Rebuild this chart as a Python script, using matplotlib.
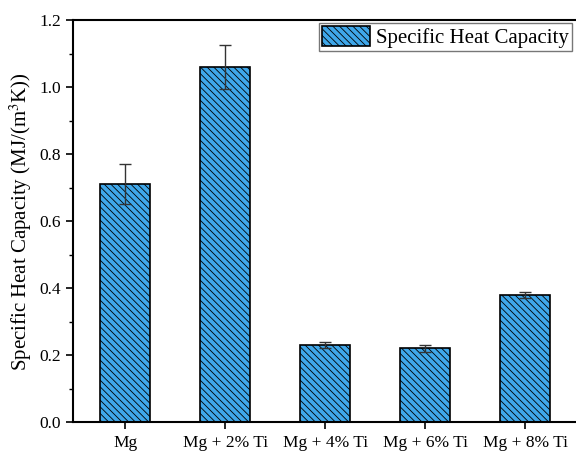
import matplotlib
matplotlib.use('Agg')
import matplotlib.pyplot as plt
from matplotlib.ticker import MultipleLocator

# heat capacity per alloy, with error
alloys = ['Mg', 'Mg + 2% Ti', 'Mg + 4% Ti', 'Mg + 6% Ti', 'Mg + 8% Ti']
heat_capacity = [0.71, 1.06, 0.23, 0.22, 0.38]
heat_capacity_err = [0.06, 0.066, 0.01, 0.01, 0.01]

plt.rcParams['font.family'] = ['Liberation Serif', 'DejaVu Serif']
plt.rcParams['mathtext.fontset'] = 'stix'
plt.rcParams['hatch.linewidth'] = 0.6
plt.rcParams['hatch.color'] = '#10253a'

fig = plt.figure(figsize=(5.76, 4.55), dpi=100)
ax = fig.add_axes([0.127, 0.072, 0.872, 0.884])

x = list(range(len(alloys)))
ax.bar(x, heat_capacity, width=0.5, color='#3fa7ea', edgecolor='black',
       linewidth=1.2, hatch='\\\\\\\\\\', label='Specific Heat Capacity', zorder=2)
ax.errorbar(x, heat_capacity, yerr=heat_capacity_err, fmt='none',
            ecolor='#333333', elinewidth=1.0, capsize=4, capthick=1.0, zorder=3)

ax.set_xlim(-0.52, 4.5)
ax.set_ylim(0, 1.2)
ax.set_xticks(x)
ax.set_xticklabels(alloys, fontsize=12.5)
ax.yaxis.set_major_locator(MultipleLocator(0.2))
ax.yaxis.set_minor_locator(MultipleLocator(0.1))
ax.set_yticklabels([f'{v:.1f}' for v in ax.get_yticks()], fontsize=12.5)
ax.tick_params(axis='both', which='major', direction='out', length=5, width=1.2)
ax.tick_params(axis='y', which='minor', direction='out', length=3, width=1.0)
ax.tick_params(axis='x', pad=4)

ax.set_ylabel('Specific Heat Capacity (MJ/(m$^3$K))', fontsize=15, labelpad=4)

for side in ['left', 'bottom', 'top']:
    ax.spines[side].set_linewidth(1.5)
ax.spines['right'].set_visible(False)

ax.legend(loc='upper right', bbox_to_anchor=(1.0, 1.0), borderaxespad=0.15,
          fancybox=False, edgecolor='#777777', fontsize=15, framealpha=1,
          handlelength=2.3, handleheight=1.1, handletextpad=0.3,
          borderpad=0.15)

plt.savefig('out.png', dpi=100)
